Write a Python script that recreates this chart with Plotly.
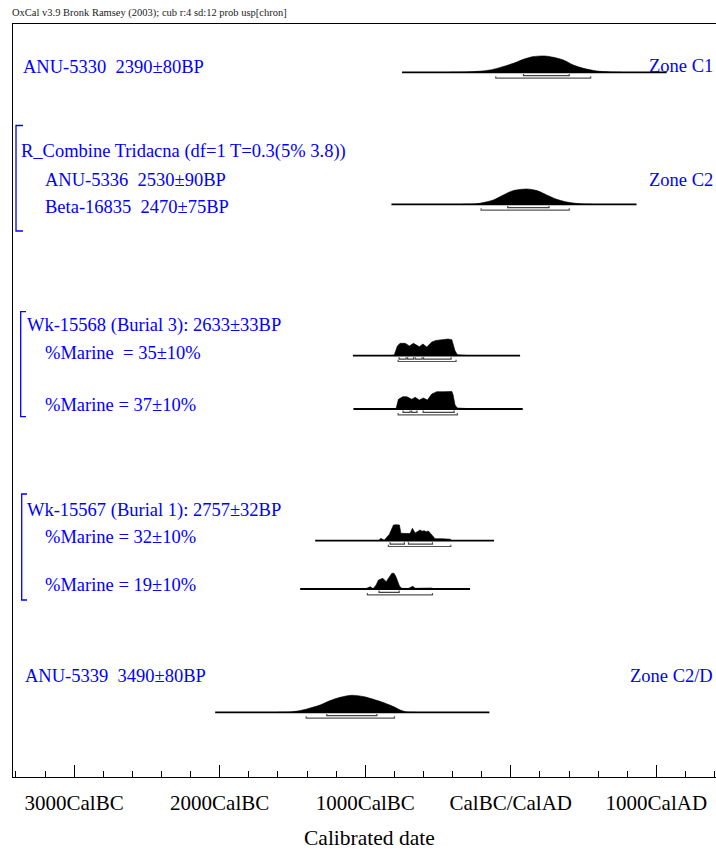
import plotly.graph_objects as go

# ---------------- data (calendar years: negative = BC) ----------------
row_names = ["ANU-5330", "R_Combine Tridacna", "Wk-15568 35%", "Wk-15568 37%",
             "Wk-15567 32%", "Wk-15567 19%", "ANU-5339"]

r1_years = [-420, -280, -142, 18, 87, 155, 236, 293, 361, 430, 499, 591, 682, 760]
r1_prob = [0, 0.5, 2.3, 9, 13, 15.7, 16.3, 15, 12.3, 7.3, 4, 1.3, 0.3, 0]

r2_years = [-330, -234, -188, -120, -51, 18, 110, 179, 247, 316, 385, 476, 560]
r2_prob = [0, 0.5, 1.7, 4.3, 9.3, 13.7, 15.3, 13.7, 9.3, 5, 2.3, 0.5, 0]

r3_years = [-843, -801, -788, -779, -760, -726, -696, -669, -628, -604, -577, -543,
            -513, -472, -431, -405, -396, -383, -367, -327, -280]
r3_prob = [0, 0.5, 6, 9.7, 12.4, 12.4, 9.7, 12.4, 9, 11.7, 8.7, 13.7,
           15.3, 15.7, 16.7, 16, 12, 5, 1, 0.3, 0]

r4_years = [-829, -788, -772, -742, -714, -680, -657, -628, -600, -573, -543, -508,
            -458, -405, -396, -383, -367, -314, -246]
r4_prob = [0, 0.5, 9.7, 12.3, 12.3, 9.7, 11.7, 9, 11, 9, 15, 17.3,
           17.3, 17.6, 14, 4, 1, 0.4, 0]

r5_years = [-932, -905, -893, -870, -834, -822, -806, -788, -765, -755, -738, -692,
            -676, -657, -623, -609, -595, -582, -566, -543, -520, -472, -417, -404]
r5_prob = [0, 0.3, 2.4, 0.5, 6.4, 10, 15.7, 16, 15.7, 7.4, 7.2, 7.2,
           12.4, 7.7, 10.7, 9.5, 10, 9, 9.7, 5.7, 2, 2, 1.5, 0]

r6_years = [-1001, -966, -946, -925, -909, -879, -856, -839, -817, -802, -788, -765,
            -749, -705, -673, -657, -589, -543, -527]
r6_prob = [0, 2.3, 0.3, 4, 9, 10.7, 7.3, 11, 15.7, 15.7, 12, 3,
           0.7, 0.5, 2.7, 0.7, 1, 1, 0]

r7_years = [-1600, -1516, -1447, -1378, -1310, -1241, -1172, -1092, -1012, -944,
            -875, -806, -760, -714, -650]
r7_prob = [0, 0.3, 1.7, 4.3, 7.3, 11.7, 15, 17, 15.7, 13, 9.7, 5.7, 2.3, 0.3, 0]

baseline_ranges = [[-747, 1071], [-820, 864], [-1085, 64], [-1081, 82],
                   [-1344, -115], [-1447, -280], [-2031, -147]]

range68 = [[[87, 402]],
           [[-21, 263]],
           [[-767, -719], [-709, -668], [-657, -609], [-599, -410]],
           [[-740, -692], [-681, -644], [-602, -389]],
           [[-829, -731], [-703, -538]],
           [[-905, -767]],
           [[-1264, -920]]]
range95 = [[[-103, 549]], [[-204, 402]], [[-774, -376]], [[-774, -367]],
           [[-841, -412]], [[-985, -538]], [[-1406, -799]]]

tick_vals = [-3000, -2000, -1000, 0, 1000]
tick_text = ["3000CalBC", "2000CalBC", "1000CalBC", "CalBC/CalAD", "1000CalAD"]

# ---------------- layout constants ----------------
W, H = 716, 851
ML, MR, MT, MB = 13, 0, 24, 74
PW, PH = W - ML - MR, H - MT - MB
row_base = [48.3, 180.3, 331.7, 385.0, 516.7, 565.0, 688.3]  # vertical slot of each row
OFF68, OFF95, TICKH = 3.4, 5.8, 1.8
SERIF = "Liberation Serif, Times New Roman, serif"
BLUE = "#0000ff"

dists = [(r1_years, r1_prob, True), (r2_years, r2_prob, True), (r3_years, r3_prob, False),
         (r4_years, r4_prob, False), (r5_years, r5_prob, False), (r6_years, r6_prob, False),
         (r7_years, r7_prob, True)]

fig = go.Figure()

for i, (yrs, pr, smooth) in enumerate(dists):
    b = row_base[i]
    # baseline
    fig.add_trace(go.Scatter(x=baseline_ranges[i], y=[b, b], mode="lines",
                             line=dict(color="black", width=1.8),
                             hoverinfo="skip", showlegend=False))
    # filled distribution
    fig.add_trace(go.Scatter(x=yrs, y=[b - p for p in pr], mode="lines",
                             fill="toself", fillcolor="black",
                             line=dict(color="black", width=0.6,
                                       shape="spline" if smooth else "linear",
                                       smoothing=0.8),
                             hoverinfo="skip", showlegend=False))
    # range bars
    for rngs, off, col in ((range68[i], OFF68, "#444444"), (range95[i], OFF95, "#555555")):
        for a, c in rngs:
            y0 = b + off
            fig.add_trace(go.Scatter(x=[a, a, c, c], y=[y0 - TICKH, y0, y0, y0 - TICKH],
                                     mode="lines", line=dict(color=col, width=1.2),
                                     hoverinfo="skip", showlegend=False))


def px(xp):
    return (xp - ML) / PW


def py(yp):
    return (H - MB - yp) / PH


labels = [
    ("ANU-5330\u00a0\u00a02390±80BP", 20.5, 67, "left"),
    ("Zone C1", 715, 66, "right"),
    ("R_Combine Tridacna (df=1 T=0.3(5% 3.8))", 18.5, 152, "left"),
    ("ANU-5336\u00a0\u00a02530±90BP", 42.5, 180, "left"),
    ("Beta-16835\u00a0\u00a02470±75BP", 42.5, 207, "left"),
    ("Zone C2", 715, 180, "right"),
    ("Wk-15568 (Burial 3): 2633±33BP", 24.5, 325, "left"),
    ("%Marine\u00a0\u00a0= 35±10%", 42.5, 353, "left"),
    ("%Marine = 37±10%", 42.5, 405, "left"),
    ("Wk-15567 (Burial 1): 2757±32BP", 24.5, 510, "left"),
    ("%Marine = 32±10%", 42.5, 537, "left"),
    ("%Marine = 19±10%", 42.5, 585, "left"),
    ("ANU-5339\u00a0\u00a03490±80BP", 22.5, 676, "left"),
    ("Zone C2/D", 715, 676, "right"),
]
annotations = []
for txt, xp, yp, anc in labels:
    annotations.append(dict(text=txt, x=px(xp), y=py(yp), xref="paper", yref="paper",
                            xanchor=anc, yanchor="middle", showarrow=False,
                            font=dict(family=SERIF, size=18.5, color=BLUE)))
annotations.append(dict(text="OxCal v3.9 Bronk Ramsey (2003); cub r:4 sd:12 prob usp[chron]",
                        x=px(10), y=py(13), xref="paper", yref="paper", xanchor="left",
                        yanchor="middle", showarrow=False,
                        font=dict(family=SERIF, size=10.5, color="#222222")))
annotations.append(dict(text="Calibrated date", x=px(370), y=py(838), xref="paper",
                        yref="paper", xanchor="center", yanchor="middle", showarrow=False,
                        font=dict(family=SERIF, size=21.5, color="black")))

shapes = []
brackets = [(16, 125.5, 231, 23), (20.7, 311.7, 416.7, 26), (21.7, 494, 600, 27)]
for bx, top, bot, tx in brackets:
    pts = [(tx, top), (bx, top), (bx, bot), (tx, bot)]
    path = "M " + " L ".join(f"{px(a):.5f},{py(c):.5f}" for a, c in pts)
    shapes.append(dict(type="path", path=path, xref="paper", yref="paper",
                       line=dict(color=BLUE, width=1.3)))

fig.update_layout(
    width=W, height=H, margin=dict(l=ML, r=MR, t=MT, b=MB),
    paper_bgcolor="white", plot_bgcolor="white",
    annotations=annotations, shapes=shapes, showlegend=False,
    xaxis=dict(range=[-3420, 1410], tickvals=tick_vals, ticktext=tick_text,
               ticks="inside", ticklen=12, tickwidth=1.3, tickcolor="black",
               showline=True, linecolor="black", linewidth=1.2, mirror=True,
               showgrid=False, zeroline=False, ticklabelstandoff=7,
               tickfont=dict(family=SERIF, size=21, color="black"),
               minor=dict(dtick=200, tick0=0, ticks="inside", ticklen=6,
                          tickwidth=1, tickcolor="black", showgrid=False)),
    yaxis=dict(range=[PH, 0], showline=True, linecolor="black", linewidth=1.2,
               mirror=False, showgrid=False, zeroline=False, showticklabels=False,
               ticks=""),
)

fig.write_html("out.html", config={"displayModeBar": False},
               post_script="document.body.style.margin='0';"
                           "document.body.style.overflow='hidden';"
                           "document.documentElement.style.overflow='hidden';")
